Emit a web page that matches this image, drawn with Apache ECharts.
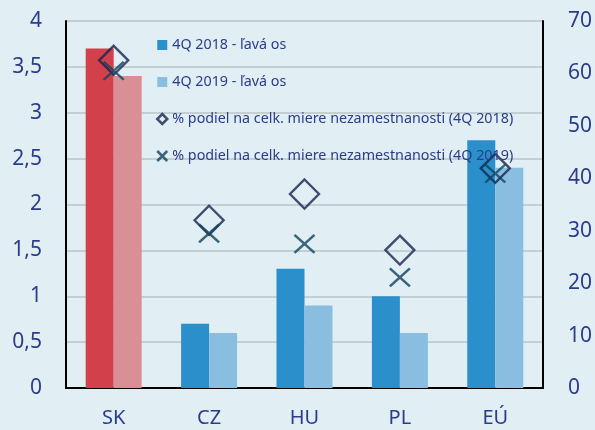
<!DOCTYPE html>
<html>
<head>
<meta charset="utf-8">
<script src="https://cdn.jsdelivr.net/npm/echarts@6/dist/echarts.min.js"></script>
<style>
html,body{margin:0;padding:0;background:#e1eef3;}
#c{width:595px;height:430px;}
</style>
</head>
<body>
<div id="c"></div>
<script>
const categories = ['SK', 'CZ', 'HU', 'PL', 'EÚ'];
const bars2018 = [3.7, 0.7, 1.3, 1.0, 2.7];
const bars2019 = [3.4, 0.6, 0.9, 0.6, 2.4];
const share2018 = [62.5, 32.0, 37.0, 26.3, 41.9];
const share2019 = [60.5, 29.5, 27.5, 21.1, 40.9];
const seriesNames = [
  '4Q 2018 - ľavá os',
  '4Q 2019 - ľavá os',
  '% podiel na celk. miere nezamestnanosti (4Q 2018)',
  '% podiel na celk. miere nezamestnanosti (4Q 2019)'
];

const labelColor = '#2a3c8a';
const blue = '#2a8fca', lightBlue = '#8abee0';
const red = '#d2404b', pink = '#d98f95';
const diamondColor = '#18244f', crossColor = '#0f4460';
const crossPath = 'path://M0,0L10,10M10,0L0,10';

function barData(vals, hiColor) {
  return vals.map((v, i) => categories[i] === 'SK' ? {value: v, itemStyle: {color: hiColor}} : v);
}

const chart = echarts.init(document.getElementById('c'));
chart.setOption({
  backgroundColor: '#e1eef3',
  animation: false,
  textStyle: {fontFamily: 'Noto Sans'},
  grid: {left: 66, right: 51, top: 21, bottom: 42},
  legend: {
    orient: 'vertical',
    left: 156,
    top: 38,
    padding: 0,
    itemGap: 23,
    itemWidth: 10,
    itemHeight: 10,
    textStyle: {color: labelColor, fontSize: 14.3, lineHeight: 14, fontFamily: 'Noto Sans'},
    data: [
      {name: seriesNames[0], icon: 'rect'},
      {name: seriesNames[1], icon: 'rect'},
      {name: seriesNames[2], icon: 'diamond', itemStyle: {color: 'transparent', borderColor: diamondColor, borderWidth: 2.5}},
      {name: seriesNames[3], icon: crossPath, itemStyle: {color: 'transparent', borderColor: crossColor, borderWidth: 2.5}}
    ]
  },
  xAxis: {
    type: 'category',
    data: categories,
    axisLine: {lineStyle: {color: '#000', width: 2}},
    axisTick: {show: false},
    axisLabel: {color: labelColor, fontSize: 20, margin: 20}
  },
  yAxis: [
    {
      type: 'value', min: 0, max: 4, interval: 0.5,
      axisLine: {show: true, lineStyle: {color: '#000', width: 2}},
      axisTick: {show: false},
      splitLine: {lineStyle: {color: '#c3cfd4', width: 2}},
      axisLabel: {color: labelColor, fontSize: 21, margin: 24, formatter: v => String(v).replace('.', ',')}
    },
    {
      type: 'value', min: 0, max: 70, interval: 10,
      axisLine: {show: true, lineStyle: {color: '#000', width: 2}},
      axisTick: {show: false},
      splitLine: {show: false},
      axisLabel: {color: labelColor, fontSize: 21, margin: 25}
    }
  ],
  series: [
    {
      name: seriesNames[0], type: 'bar', data: barData(bars2018, red),
      barWidth: 28, barGap: '0%', itemStyle: {color: blue}
    },
    {
      name: seriesNames[1], type: 'bar', data: barData(bars2019, pink),
      barWidth: 28, barGap: '0%', itemStyle: {color: lightBlue}
    },
    {
      name: seriesNames[2], type: 'scatter', yAxisIndex: 1, data: share2018,
      symbol: 'diamond', symbolSize: 29, z: 3,
      itemStyle: {color: 'transparent', borderColor: diamondColor, borderWidth: 2.4}
    },
    {
      name: seriesNames[3], type: 'scatter', yAxisIndex: 1, data: share2019,
      symbol: crossPath, symbolSize: [20, 18], z: 4,
      itemStyle: {color: 'transparent', borderColor: crossColor, borderWidth: 2.4}
    }
  ]
});
</script>
</body>
</html>
